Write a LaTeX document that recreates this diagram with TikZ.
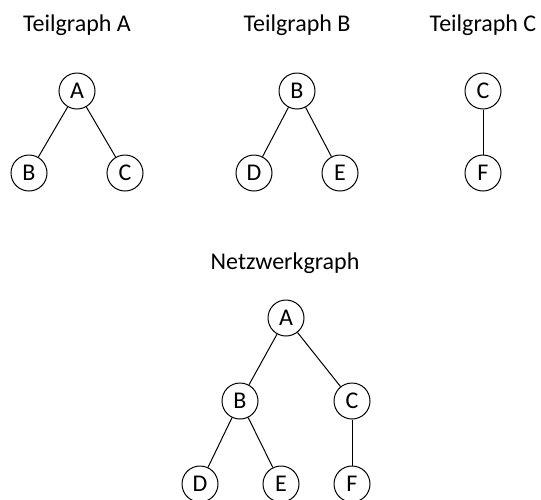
\documentclass[tikz,border=0pt]{standalone}
\usepackage{fontspec}
\setmainfont{Carlito}
\usepackage{tikz}
\usetikzlibrary{positioning}
\tikzset{vertex/.style={circle, draw, minimum size=18pt, inner sep=0pt, font=\fontsize{12}{14}\selectfont},
         caption/.style={font=\fontsize{12}{14}\selectfont}}

\begin{document}
\begin{tikzpicture}[x=0.5pt, y=-0.5pt, line width=0.5pt]
\useasboundingbox (0,0) rectangle (541,499);
% Teilgraph A
\node[caption] (tA) at (77,25) {Teilgraph A};
\node[vertex] (a1) at (77,91) {A};
\node[vertex] (b1) at (29,173) {B};
\node[vertex] (c1) at (125,173) {C};
\draw (a1) -- (b1);
\draw (a1) -- (c1);
% Teilgraph B
\node[caption] (tB) at (297,25) {Teilgraph B};
\node[vertex] (b2) at (297,91) {B};
\node[vertex] (d2) at (254,173) {D};
\node[vertex] (e2) at (340,173) {E};
\draw (b2) -- (d2);
\draw (b2) -- (e2);
% Teilgraph C
\node[caption] (tC) at (483,25) {Teilgraph C};
\node[vertex] (c3) at (483,91) {C};
\node[vertex] (f3) at (483,173) {F};
\draw (c3) -- (f3);
% Netzwerkgraph
\node[caption] (tN) at (285,263) {Netzwerkgraph};
\node[vertex] (a) at (286,318) {A};
\node[vertex] (b) at (240,401) {B};
\node[vertex] (c) at (352,401) {C};
\node[vertex] (d) at (200,484) {D};
\node[vertex] (e) at (281,484) {E};
\node[vertex] (f) at (352,484) {F};
\draw (a) -- (b);
\draw (a) -- (c);
\draw (b) -- (d);
\draw (b) -- (e);
\draw (c) -- (f);
\end{tikzpicture}
\end{document}
